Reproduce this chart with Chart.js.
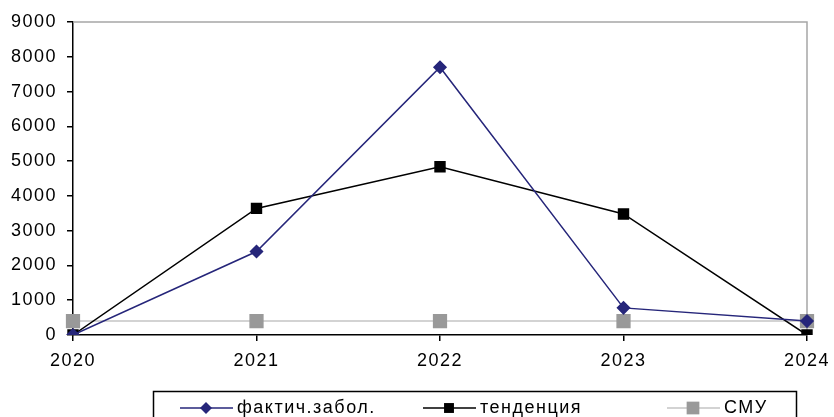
<!DOCTYPE html>
<html>
<head>
<meta charset="utf-8">
<script src="https://cdn.jsdelivr.net/npm/chart.js@4/dist/chart.umd.min.js"></script>
<style>
  body { margin: 0; background: #fff; }
  #wrap { width: 834px; height: 417px; }
</style>
</head>
<body>
<div id="wrap"><canvas id="chart" width="834" height="417"></canvas></div>
<script>
const years = ['2020', '2021', '2022', '2023', '2024'];
const actual = [0, 2400, 7700, 780, 400];
const trend = [0, 3640, 4840, 3480, 0];
const smu = [400, 400, 400, 400, 400];
const seriesNames = ['фактич.забол.', 'тенденция', 'СМУ'];
const yMax = 9000;
const yStep = 1000;

const FONT = '"Liberation Sans", Arial, sans-serif';
const SIZE = 18;
const SPACING = '1.5px';

// excel-ish wide lettering
const spacing = {
  id: 'spacing',
  beforeLayout(chart) { chart.ctx.letterSpacing = SPACING; },
  beforeDraw(chart) { chart.ctx.letterSpacing = SPACING; }
};

// gray frame on top and right of the plot
const frame = {
  id: 'frame',
  beforeDatasetsDraw(chart) {
    const { ctx, chartArea: a } = chart;
    ctx.save();
    ctx.strokeStyle = '#a6a6a6';
    ctx.lineWidth = 1.5;
    ctx.beginPath();
    ctx.moveTo(a.left, a.top);
    ctx.lineTo(a.right, a.top);
    ctx.lineTo(a.right, a.bottom);
    ctx.stroke();
    ctx.restore();
  }
};

function marker(ctx, style, r, x, y, color) {
  ctx.fillStyle = color;
  ctx.beginPath();
  if (style === 'rectRot') {
    ctx.moveTo(x, y - r); ctx.lineTo(x + r, y); ctx.lineTo(x, y + r); ctx.lineTo(x - r, y);
  } else {
    const s = r * Math.SQRT1_2;
    ctx.rect(x - s, y - s, 2 * s, 2 * s);
  }
  ctx.closePath();
  ctx.fill();
}

// boxed legend below the axis
const boxLegend = {
  id: 'boxLegend',
  afterDraw(chart) {
    const ctx = chart.ctx;
    ctx.save();
    ctx.strokeStyle = '#000';
    ctx.lineWidth = 1.5;
    ctx.strokeRect(153.5, 391.5, 643, 40);
    ctx.font = SIZE + 'px ' + FONT;
    ctx.letterSpacing = SPACING;
    ctx.textBaseline = 'middle';
    const y = 408;
    const starts = [180, 423, 667];
    chart.data.datasets.forEach((ds, i) => {
      const x0 = starts[i];
      ctx.strokeStyle = ds.borderColor;
      ctx.lineWidth = 1.5;
      ctx.beginPath();
      ctx.moveTo(x0, y);
      ctx.lineTo(x0 + 53, y);
      ctx.stroke();
      marker(ctx, ds.pointStyle, ds.pointRadius, x0 + 26, y, ds.pointBackgroundColor);
      ctx.fillStyle = '#000';
      ctx.fillText(ds.label, x0 + 57, y);
    });
    ctx.restore();
  }
};

new Chart(document.getElementById('chart'), {
  type: 'line',
  data: {
    labels: years,
    datasets: [
      {
        label: seriesNames[0], data: actual,
        borderColor: '#26267a', backgroundColor: '#26267a',
        pointBackgroundColor: '#26267a', pointBorderColor: '#26267a',
        pointStyle: 'rectRot', pointRadius: 6, borderWidth: 1.5
      },
      {
        label: seriesNames[1], data: trend,
        borderColor: '#000', backgroundColor: '#000',
        pointBackgroundColor: '#000', pointBorderColor: '#000',
        pointStyle: 'rect', pointRadius: 7, borderWidth: 1.5
      },
      {
        label: seriesNames[2], data: smu,
        borderColor: '#c4c4c4', backgroundColor: '#999',
        pointBackgroundColor: '#999', pointBorderColor: '#999',
        pointStyle: 'rect', pointRadius: 9, borderWidth: 1.5
      }
    ]
  },
  options: {
    responsive: false,
    animation: false,
    layout: { padding: { top: 22, right: 27, left: 0, bottom: 0 } },
    plugins: {
      legend: { display: false },
      tooltip: { enabled: false }
    },
    scales: {
      x: {
        offset: false,
        afterFit(s) { s.height = 82; s.paddingLeft = 0; s.paddingRight = 0; },
        grid: { drawOnChartArea: false, tickLength: 6, color: '#000', lineWidth: 1.5 },
        border: { color: '#000', width: 1.5 },
        ticks: { color: '#000', font: { family: FONT, size: SIZE }, padding: 9, maxRotation: 0 }
      },
      y: {
        min: 0, max: yMax,
        afterFit(s) { s.width = 73; s.paddingTop = 0; s.paddingBottom = 0; },
        grid: { drawOnChartArea: false, tickLength: 6, color: '#000', lineWidth: 1.5 },
        border: { color: '#000', width: 1.5 },
        ticks: {
          stepSize: yStep, color: '#000', font: { family: FONT, size: SIZE }, padding: 10,
          callback: v => String(v)
        }
      }
    }
  },
  plugins: [spacing, frame, boxLegend]
});
</script>
</body>
</html>
